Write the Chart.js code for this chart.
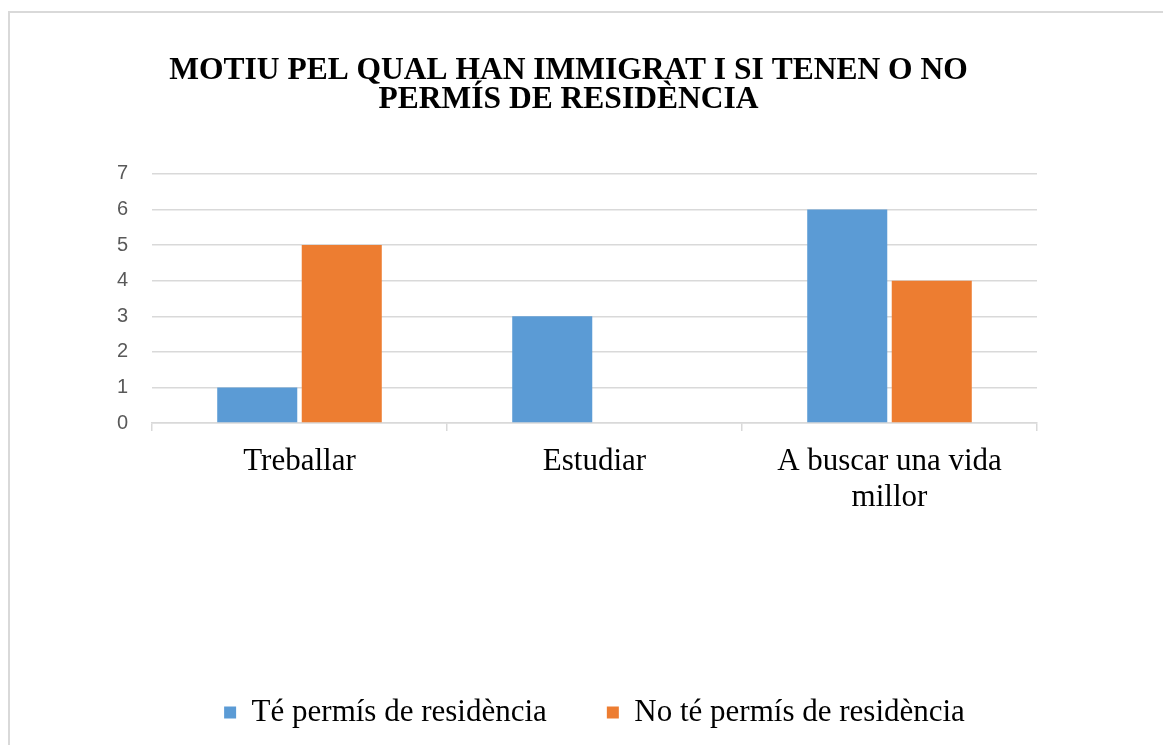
<!DOCTYPE html>
<html>
<head>
<meta charset="utf-8">
<script src="https://cdn.jsdelivr.net/npm/chart.js@4/dist/chart.umd.min.js"></script>
<style>
  html, body { margin: 0; padding: 0; background: #fff; }
  #frame { position: absolute; left: 8px; top: 11px; width: 1200px; height: 800px; border: 2px solid #d9d9d9; box-sizing: border-box; }
  #wrap { position: absolute; left: 0; top: 0; width: 1163px; height: 745px; }
</style>
</head>
<body>
<div id="frame"></div>
<div id="wrap"><canvas id="myChart"></canvas></div>
<script>
const categories = ['Treballar', 'Estudiar', ['A buscar una vida', 'millor']];
const withPermit = [1, 3, 6];
const withoutPermit = [5, 0, 4];
const yTicks = [0, 1, 2, 3, 4, 5, 6, 7];

const gridGrey = '#d9d9d9';

// shift legend a bit to the right, the original is not centred with the title
const legendShift = {
    id: 'legendShift',
    afterLayout(chart) {
        chart.legend.left += 26;
        chart.legend.right += 26;
    }
};

const data = {
    labels: categories,
    datasets: [{
        label: 'Té permís de residència',
        data: withPermit,
        backgroundColor: '#5B9BD5',
        borderWidth: 0
    }, {
        label: 'No té permís de residència',
        data: withoutPermit,
        backgroundColor: '#ED7D31',
        borderWidth: 0
    }]
};

const config = {
    type: 'bar',
    data: data,
    plugins: [legendShift],
    options: {
        responsive: true,
        maintainAspectRatio: false,
        animation: false,
        layout: { padding: { top: 20, left: 100, right: 126, bottom: 7 } },
        datasets: { bar: { categoryPercentage: 0.573, barPercentage: 0.947 } },
        plugins: {
            title: {
                display: true,
                text: ['MOTIU PEL QUAL HAN IMMIGRAT I SI TENEN O NO', 'PERMÍS DE RESIDÈNCIA'],
                color: '#000',
                font: { family: "'Liberation Serif', serif", size: 31.5, weight: 'bold', lineHeight: 0.92 },
                padding: { top: 36, bottom: 60 }
            },
            legend: {
                position: 'bottom',
                labels: {
                    color: '#000',
                    font: { family: "'Liberation Serif', serif", size: 31 },
                    boxWidth: 12,
                    boxHeight: 12,
                    padding: 60
                }
            },
            tooltip: { enabled: false }
        },
        scales: {
            x: {
                grid: { display: true, drawOnChartArea: false, drawTicks: true, tickLength: 8, offset: true, color: gridGrey, lineWidth: 1.5 },
                border: { display: true, color: gridGrey, width: 1.5 },
                ticks: { color: '#000', font: { family: "'Liberation Serif', serif", size: 31, lineHeight: 1.15 }, padding: 13, maxRotation: 0 },
                afterFit: (axis) => { axis.height = 214; }
            },
            y: {
                min: 0,
                max: 7,
                afterBuildTicks: (axis) => { axis.ticks = yTicks.map(v => ({ value: v })); },
                afterFit: (axis) => { axis.width = 52; },
                grid: { color: gridGrey, lineWidth: 1.5, drawTicks: false },
                border: { display: false },
                ticks: { color: '#595959', font: { family: "'Liberation Sans', sans-serif", size: 20 }, padding: 24 }
            }
        }
    }
};

const myChart = new Chart(document.getElementById('myChart'), config);
</script>
</body>
</html>
